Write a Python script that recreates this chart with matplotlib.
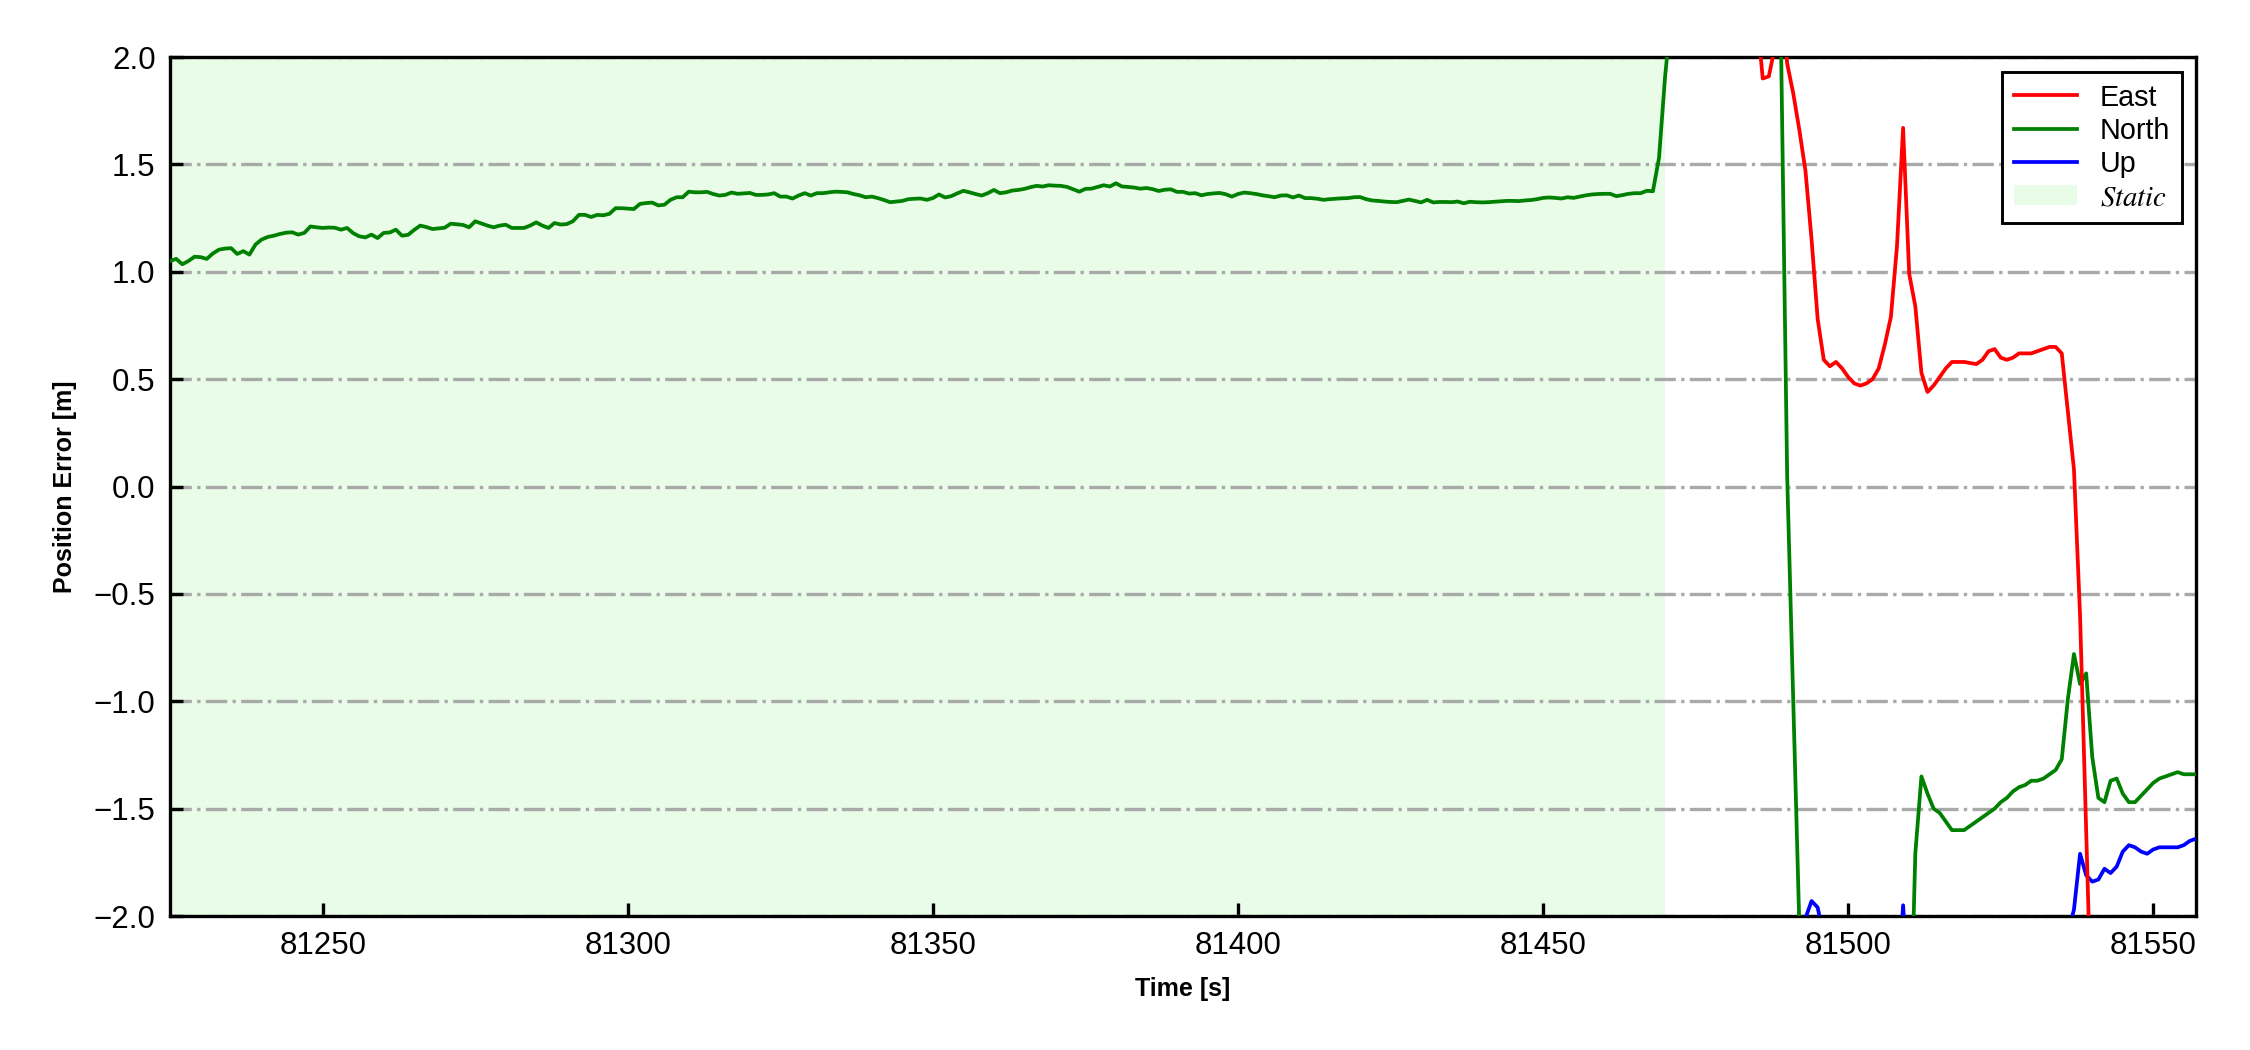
import numpy as np
import matplotlib
matplotlib.use('Agg')
import matplotlib.pyplot as plt
from matplotlib.patches import Patch

plt.rcParams['font.family'] = ['Liberation Sans', 'DejaVu Sans']
plt.rcParams['mathtext.fontset'] = 'stix'

# 1 Hz position error, seconds of week
t_north = np.arange(81225, 81558)
north = [
    1.05, 1.06, 1.035, 1.05, 1.07, 1.068, 1.06, 1.085, 1.103, 1.108,
    1.11, 1.083, 1.096, 1.08, 1.127, 1.15, 1.162, 1.168, 1.176, 1.182,
    1.184, 1.173, 1.181, 1.211, 1.207, 1.204, 1.206, 1.205, 1.196, 1.204,
    1.18, 1.165, 1.16, 1.173, 1.157, 1.181, 1.183, 1.196, 1.168, 1.172,
    1.195, 1.215, 1.208, 1.199, 1.202, 1.205, 1.224, 1.221, 1.218, 1.207,
    1.235, 1.225, 1.215, 1.207, 1.215, 1.219, 1.204, 1.204, 1.204, 1.215,
    1.23, 1.215, 1.204, 1.227, 1.22, 1.222, 1.235, 1.265, 1.265, 1.255,
    1.265, 1.263, 1.27, 1.296, 1.296, 1.294, 1.292, 1.316, 1.32, 1.322,
    1.309, 1.312, 1.335, 1.347, 1.347, 1.373, 1.37, 1.37, 1.372, 1.362,
    1.355, 1.358, 1.369, 1.363, 1.365, 1.367, 1.358, 1.358, 1.36, 1.366,
    1.35, 1.35, 1.341, 1.355, 1.366, 1.355, 1.366, 1.366, 1.37, 1.373,
    1.372, 1.37, 1.362, 1.356, 1.347, 1.35, 1.343, 1.334, 1.324, 1.327,
    1.33, 1.338, 1.34, 1.341, 1.335, 1.343, 1.36, 1.346, 1.352, 1.365,
    1.377, 1.37, 1.362, 1.355, 1.366, 1.381, 1.366, 1.37, 1.378, 1.381,
    1.386, 1.394, 1.4, 1.397, 1.403, 1.401, 1.4, 1.395, 1.384, 1.373,
    1.386, 1.387, 1.395, 1.403, 1.397, 1.412, 1.397, 1.395, 1.392, 1.387,
    1.39, 1.385, 1.376, 1.382, 1.384, 1.372, 1.372, 1.364, 1.366, 1.356,
    1.362, 1.365, 1.367, 1.361, 1.35, 1.362, 1.369, 1.366, 1.362, 1.356,
    1.352, 1.347, 1.355, 1.356, 1.346, 1.355, 1.343, 1.343, 1.34, 1.335,
    1.338, 1.34, 1.342, 1.343, 1.347, 1.348, 1.338, 1.332, 1.33, 1.327,
    1.325, 1.324, 1.33, 1.336, 1.33, 1.323, 1.335, 1.323, 1.325, 1.325,
    1.324, 1.327, 1.319, 1.326, 1.324, 1.323, 1.324, 1.326, 1.328, 1.33,
    1.33, 1.329, 1.332, 1.334, 1.338, 1.344, 1.346, 1.344, 1.341, 1.347,
    1.344, 1.35, 1.356, 1.36, 1.362, 1.363, 1.363, 1.352, 1.357, 1.363,
    1.366, 1.366, 1.377, 1.375, 1.53, 1.91, 2.2, 2.6, 3.0, 3.3,
    3.5, 3.6, 3.6, 3.7, 3.8, 3.7, 3.6, 3.5, 3.4, 3.2,
    3.0, 2.8, 2.6, 2.4, 2.05, 0.05, -1.0, -2.05, -3.0, -3.8,
    -4.3, -4.6, -4.8, -5.0, -5.0, -4.9, -4.7, -4.5, -4.2, -4.0,
    -3.8, -3.6, -3.4, -3.2, -3.0, -2.8, -1.71, -1.35, -1.43, -1.50,
    -1.52, -1.56, -1.60, -1.60, -1.60, -1.58, -1.56, -1.54, -1.52, -1.50,
    -1.47, -1.45, -1.42, -1.40, -1.39, -1.37, -1.37, -1.36, -1.34, -1.32,
    -1.27, -0.99, -0.78, -0.92, -0.87, -1.26, -1.45, -1.47, -1.37, -1.36,
    -1.43, -1.47, -1.47, -1.44, -1.41, -1.38, -1.36, -1.35, -1.34, -1.33,
    -1.34, -1.34, -1.34,
]

t_east = np.arange(81484, 81542)
east = [
    2.8, 2.2, 1.90, 1.91, 2.05, 2.3, 1.97, 1.83, 1.66, 1.47,
    1.15, 0.78, 0.59, 0.56, 0.58, 0.55, 0.51, 0.48, 0.47, 0.48,
    0.50, 0.55, 0.66, 0.79, 1.12, 1.67, 0.99, 0.84, 0.53, 0.44,
    0.47, 0.51, 0.55, 0.58, 0.58, 0.58, 0.575, 0.57, 0.59, 0.63,
    0.64, 0.60, 0.59, 0.60, 0.62, 0.62, 0.62, 0.63, 0.64, 0.65,
    0.65, 0.62, 0.35, 0.08, -0.6, -1.6, -2.6, -3.4,
]

t_up = np.arange(81491, 81558)
up = [
    -2.9, -2.5, -2.01, -1.93, -1.96, -2.1, -2.6, -2.9, -3.1, -3.2,
    -3.1, -3.0, -2.9, -2.8, -2.8, -2.7, -2.6, -2.4, -1.95, -2.4,
    -2.7, -2.9, -3.0, -3.1, -3.1, -3.2, -3.2, -3.1, -3.0, -3.0,
    -2.9, -2.9, -2.8, -2.8, -2.7, -2.7, -2.6, -2.6, -2.5, -2.5,
    -2.4, -2.4, -2.3, -2.3, -2.2, -2.08, -1.97, -1.71, -1.81, -1.84,
    -1.83, -1.78, -1.80, -1.77, -1.70, -1.67, -1.68, -1.70, -1.71, -1.69,
    -1.68, -1.68, -1.68, -1.68, -1.67, -1.65, -1.64,
]

static_start = 81225
static_end = 81470

fig = plt.figure(figsize=(7.5, 3.5), dpi=300)
ax = fig.add_axes([0.0756, 0.1276, 0.9004, 0.8181])

ax.axvspan(static_start, static_end, color='#e8fce8', lw=0, zorder=0)
ax.grid(axis='y', color='darkgray', linestyle='-.', linewidth=0.8, zorder=1)

lg, = ax.plot(t_north, north, color='g', lw=0.9, zorder=3)
lb, = ax.plot(t_up, up, color='b', lw=0.9, zorder=3)
lr, = ax.plot(t_east, east, color='r', lw=0.9, zorder=4)

ax.set_xlim(81225, 81557)
ax.set_ylim(-2.0, 2.0)
ax.set_yticks(np.arange(-2.0, 2.01, 0.5))
ax.set_xticks([81250, 81300, 81350, 81400, 81450, 81500, 81550])

ax.tick_params(direction='in', length=3.2, width=0.8, labelsize=7.5,
               top=False, right=False)
for s in ax.spines.values():
    s.set_linewidth(0.8)

ax.set_xlabel('Time [s]', fontsize=6, fontweight='bold')
ax.set_ylabel('Position Error [m]', fontsize=6, fontweight='bold')

static_patch = Patch(facecolor='#e8fce8', edgecolor='none')
leg = ax.legend([lr, lg, lb, static_patch], ['East', 'North', 'Up', r'$Static$'],
                loc='upper right', bbox_to_anchor=(0.993, 0.9825),
                borderaxespad=0, fontsize=6.9, fancybox=False,
                edgecolor='black', framealpha=1, labelspacing=0.18,
                handlelength=2.2, handletextpad=0.8, borderpad=0.4)
leg.get_frame().set_linewidth(0.7)

fig.savefig('out.png', dpi=300)
